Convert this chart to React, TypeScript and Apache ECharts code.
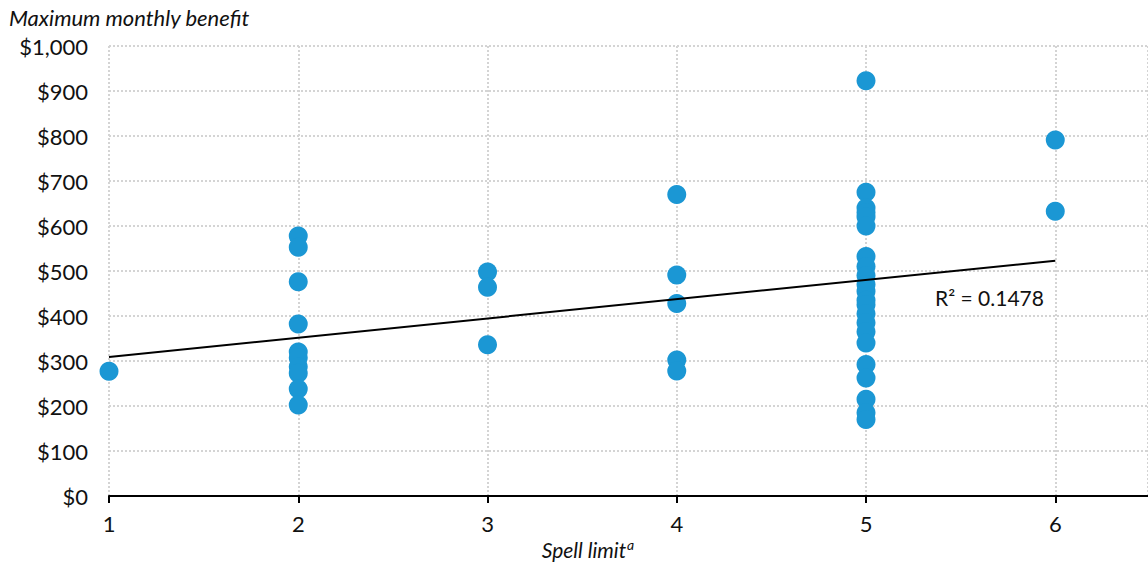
import React, { useEffect, useRef } from "react";
import * as echarts from "echarts";

// Spell limits (x) and maximum monthly benefits ($)
const spellLimits = [1, 2, 3, 4, 5, 6];
const benefitsSpell1 = [277];
const benefitsSpell2 = [578, 553, 476, 382, 320, 307, 287, 273, 238, 202];
const benefitsSpell3 = [498, 464, 336];
const benefitsSpell4 = [670, 491, 428, 302, 278];
const benefitsSpell5 = [
  923, 675, 640, 630, 620, 600, 532, 510, 490, 470, 455, 435, 425, 405, 385,
  365, 340, 292, 262, 215, 185, 170,
];
const benefitsSpell6 = [791, 633];
const yTickValues = [0, 100, 200, 300, 400, 500, 600, 700, 800, 900, 1000];
const rSquaredLabel = "R\u00B2 = 0.1478";
const yAxisTitle = "Maximum monthly benefit";
const xAxisTitle = "Spell limit";

const FONT = "Lato, 'Noto Sans', sans-serif";
const DOT = "#1b97d4";
const FS = 22;

export default function App() {
  const ref = useRef<HTMLDivElement>(null);

  useEffect(() => {
    document.body.style.margin = "0";
    const st = document.createElement("style");
    st.textContent =
      "svg text, svg tspan { font-variant-numeric: tabular-nums; font-feature-settings: 'tnum' 1; }";
    document.head.appendChild(st);
    if (!ref.current) return;
    const chart = echarts.init(ref.current, undefined, { renderer: "svg" });

    const groups = [
      benefitsSpell1,
      benefitsSpell2,
      benefitsSpell3,
      benefitsSpell4,
      benefitsSpell5,
      benefitsSpell6,
    ];
    const points: number[][] = [];
    groups.forEach((g, i) => g.forEach((v) => points.push([spellLimits[i], v])));

    // least-squares trend line
    const n = points.length;
    const mx = points.reduce((s, p) => s + p[0], 0) / n;
    const my = points.reduce((s, p) => s + p[1], 0) / n;
    let sxy = 0;
    let sxx = 0;
    points.forEach((p) => {
      sxy += (p[0] - mx) * (p[1] - my);
      sxx += (p[0] - mx) * (p[0] - mx);
    });
    const slope = sxy / sxx;
    const intercept = my - slope * mx;
    const xFirst = spellLimits[0];
    const xLast = spellLimits[spellLimits.length - 1];
    const trend = [
      [xFirst, intercept + slope * xFirst],
      [xLast, intercept + slope * xLast],
    ];

    const gridLine = {
      show: true,
      lineStyle: { color: "#d4d4d4", width: 2, type: [2, 2] as any },
    };

    chart.setOption({
      animation: false,
      grid: { left: 109, right: -2, top: 46, bottom: 69, containLabel: false },
      xAxis: {
        type: "value",
        min: 1,
        max: 6.49,
        interval: 1,
        axisLine: { show: true, lineStyle: { color: "#000", width: 2 } },
        axisTick: { show: true, length: 7, lineStyle: { color: "#000", width: 2 } },
        axisLabel: {
          color: "#111",
          fontFamily: FONT,
          fontSize: FS,
          margin: 16,
          showMaxLabel: false,
          formatter: (v: number) => (Number.isInteger(v) ? String(v) : ""),
        },
        splitLine: gridLine,
      },
      yAxis: {
        type: "value",
        min: yTickValues[0],
        max: yTickValues[yTickValues.length - 1],
        interval: 100,
        axisLine: { show: false },
        axisTick: { show: false },
        axisLabel: {
          color: "#111",
          fontFamily: FONT,
          fontSize: FS,
          margin: 21,
          formatter: (v: number) => "$" + v.toLocaleString("en-US"),
        },
        splitLine: gridLine,
      },
      graphic: [
        {
          type: "text",
          x: 9,
          y: 17,
          z: 10,
          style: {
            text: yAxisTitle,
            font: `italic ${FS}px ${FONT}`,
            fill: "#111",
            verticalAlign: "middle",
          },
        },
        {
          type: "rect",
          z: 11,
          shape: { x: 0, y: 28.5, width: 300, height: 8 },
          style: { fill: "#fff" },
          silent: true,
        },
        {
          type: "text",
          x: 588,
          y: 537,
          style: {
            text: `{t|${xAxisTitle}}{s|a}`,
            align: "center",
            verticalAlign: "top",
            fill: "#111",
            rich: {
              t: { font: `italic ${FS - 1}px ${FONT}`, fill: "#111" },
              s: {
                font: `italic 14px ${FONT}`,
                fill: "#111",
                verticalAlign: "top",
                padding: [0, 0, 10, 1],
              },
            },
          },
        },
        {
          type: "text",
          x: 935,
          y: 297,
          style: {
            text: rSquaredLabel,
            font: `${FS - 1}px ${FONT}`,
            fill: "#111",
            verticalAlign: "middle",
          },
        },
      ],
      series: [
        {
          type: "line",
          data: trend,
          symbol: "none",
          lineStyle: { color: "#000", width: 2 },
          z: 3,
          silent: true,
        },
        {
          type: "scatter",
          data: points,
          symbol: "circle",
          symbolSize: 19,
          itemStyle: { color: DOT, opacity: 1 },
          z: 2,
        },
      ],
    });

    return () => {
      chart.dispose();
      st.remove();
    };
  }, []);

  return <div ref={ref} style={{ width: 1148, height: 565 }} />;
}
